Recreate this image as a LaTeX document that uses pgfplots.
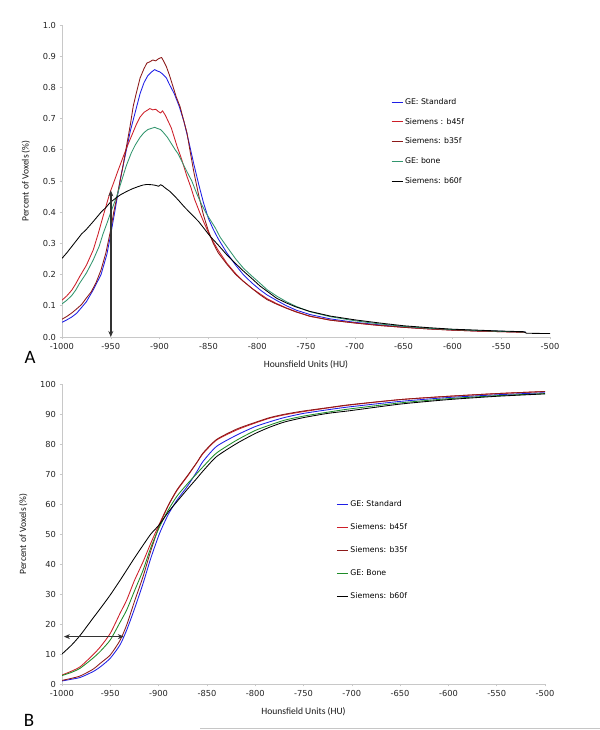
\documentclass[border=0pt]{standalone}
\usepackage{pgfplots}
\pgfplotsset{compat=1.18}
\usetikzlibrary{arrows.meta}
\usepackage{fontspec}
\setmainfont{DejaVu Sans}
\newfontfamily\carlito{Carlito}
\definecolor{cblue}{RGB}{30,30,230}
\definecolor{cred}{RGB}{205,30,40}
\definecolor{cdred}{RGB}{140,25,25}
\definecolor{cgreenA}{RGB}{50,150,110}
\definecolor{cgreenB}{RGB}{30,140,40}
\definecolor{caxis}{RGB}{200,200,200}
\pgfplotsset{
  common/.style={
    scale only axis,
    axis x line*=bottom, axis y line*=left,
    axis line style={caxis, line width=0.8bp},
    tick style={caxis, line width=0.6bp},
    major tick length=2.5bp, tick align=outside,
    xmin=-1000, xmax=-500,
    xtick={-1000,-950,...,-500},
    /pgf/number format/assume math mode=true,
    /pgf/number format/set thousands separator={},
    ticklabel style={font=\fontsize{8.3}{9}\selectfont, text=black!85},
    label style={font=\carlito\fontsize{9.6}{11}\selectfont, text=black!90},
    xlabel={Hounsfield Units (HU)},
    ylabel={Percent of Voxels (\%)},
    xlabel style={yshift=-4bp},
    ylabel style={yshift=6bp},
    every axis plot/.append style={line width=0.85bp, line join=round},
    legend cell align=left,
    legend image code/.code={\draw[#1, sharp plot, line width=0.9bp] (0bp,0bp) -- (11bp,0bp);},
    legend style={draw=none, fill=none, font=\fontsize{7.8}{9}\selectfont, anchor=north west, inner sep=0pt},
  }
}
\begin{document}
\begin{tikzpicture}
\useasboundingbox (0bp,0bp) rectangle (600bp,730bp);
\fill[white] (0bp,0bp) rectangle (600bp,730bp);
% ---------------- Panel A ----------------
\begin{axis}[common,
  at={(62bp,393bp)}, anchor=south west,
  width=488bp, height=312bp,
  ymin=0, ymax=1, ytick={0,0.1,...,1.0},
  yticklabel style={/pgf/number format/fixed, /pgf/number format/fixed zerofill, /pgf/number format/precision=1},
  legend style={at={(0.674,0.772)}, row sep=8.5bp},
]
\addplot[cblue] coordinates {(-1000,0.047) (-995,0.055) (-990,0.064) (-985,0.076) (-982,0.087) (-975,0.113) (-968,0.151) (-960,0.2) (-954,0.265) (-950,0.33) (-946,0.40) (-940,0.51) (-934,0.6) (-930,0.66) (-925,0.72) (-920,0.78) (-916,0.815) (-912,0.838) (-908,0.85) (-905,0.857) (-902,0.852) (-900,0.85) (-897,0.843) (-893,0.83) (-890,0.81) (-885,0.78) (-880,0.74) (-875,0.69) (-870,0.625) (-865,0.555) (-860,0.49) (-855,0.43) (-850,0.38) (-845,0.345) (-840,0.315) (-831,0.269) (-822,0.23) (-814,0.199) (-805,0.172) (-797,0.151) (-790,0.135) (-780,0.117) (-770,0.1) (-760,0.086) (-746,0.072) (-725,0.058) (-700,0.047) (-675,0.039) (-650,0.032) (-625,0.027) (-600,0.023) (-575,0.02) (-550,0.018) (-525,0.016)};
\addlegendentry{GE: Standard}
\addplot[cred] coordinates {(-1000,0.118) (-995,0.132) (-990,0.15) (-986,0.17) (-982,0.193) (-975,0.23) (-968,0.279) (-963,0.33) (-958,0.386) (-953,0.44) (-950,0.47) (-947,0.495) (-943,0.53) (-937,0.58) (-932,0.62) (-928,0.65) (-924,0.68) (-920,0.705) (-916,0.72) (-913,0.726) (-910,0.732) (-907,0.728) (-904,0.73) (-901,0.722) (-899,0.718) (-897,0.725) (-894,0.71) (-891,0.69) (-888,0.67) (-886,0.65) (-882,0.61) (-878,0.575) (-875,0.545) (-872,0.515) (-868,0.48) (-864,0.44) (-859,0.4) (-855,0.37) (-850,0.335) (-845,0.305) (-840,0.278) (-831,0.236) (-822,0.203) (-814,0.178) (-805,0.155) (-797,0.138) (-790,0.123) (-780,0.107) (-770,0.093) (-760,0.081) (-746,0.066) (-725,0.054) (-700,0.045) (-675,0.037) (-650,0.031) (-625,0.026) (-600,0.022) (-575,0.019) (-550,0.017) (-525,0.015)};
\addlegendentry{Siemens : b45f}
\addplot[cdred] coordinates {(-1000,0.057) (-995,0.066) (-990,0.077) (-985,0.09) (-980,0.104) (-975,0.125) (-970,0.145) (-965,0.175) (-960,0.215) (-955,0.27) (-950,0.345) (-947,0.40) (-943,0.46) (-938,0.54) (-934,0.61) (-930,0.68) (-927,0.74) (-924,0.78) (-920,0.83) (-916,0.86) (-913,0.878) (-910,0.882) (-907,0.888) (-904,0.885) (-901,0.892) (-898,0.896) (-896,0.885) (-893,0.866) (-890,0.84) (-886,0.8) (-883,0.77) (-879,0.738) (-875,0.69) (-872,0.655) (-869,0.6) (-865,0.53) (-860,0.455) (-855,0.39) (-850,0.34) (-845,0.3) (-840,0.27) (-831,0.233) (-822,0.2) (-814,0.178) (-805,0.155) (-797,0.135) (-790,0.12) (-780,0.105) (-770,0.092) (-760,0.08) (-746,0.067) (-725,0.054) (-700,0.045) (-675,0.037) (-650,0.031) (-625,0.026) (-600,0.022) (-575,0.019) (-550,0.017) (-525,0.015)};
\addlegendentry{Siemens: b35f}
\addplot[cgreenA] coordinates {(-1000,0.106) (-995,0.118) (-990,0.133) (-986,0.15) (-982,0.172) (-975,0.205) (-968,0.247) (-962,0.29) (-958,0.33) (-954,0.364) (-950,0.4) (-944,0.45) (-938,0.51) (-934,0.55) (-929,0.59) (-925,0.615) (-920,0.64) (-916,0.655) (-912,0.665) (-908,0.669) (-905,0.672) (-902,0.668) (-899,0.665) (-896,0.655) (-892,0.64) (-888,0.62) (-884,0.6) (-881,0.587) (-876,0.555) (-872,0.53) (-867,0.5) (-862,0.46) (-857,0.425) (-852,0.395) (-848,0.375) (-843,0.35) (-838,0.32) (-831,0.289) (-822,0.25) (-814,0.22) (-805,0.194) (-797,0.172) (-790,0.152) (-780,0.131) (-770,0.113) (-760,0.098) (-746,0.081) (-725,0.065) (-700,0.052) (-675,0.042) (-650,0.034) (-625,0.028) (-600,0.024) (-575,0.021) (-550,0.018) (-525,0.016)};
\addlegendentry{GE: bone}
\addplot[black] coordinates {(-1000,0.252) (-995,0.27) (-990,0.29) (-985,0.31) (-980,0.33) (-975,0.345) (-968,0.37) (-960,0.4) (-955,0.415) (-951,0.43) (-945,0.445) (-940,0.456) (-934,0.466) (-928,0.475) (-922,0.482) (-917,0.487) (-913,0.489) (-908,0.488) (-904,0.486) (-901,0.483) (-899,0.488) (-897,0.485) (-894,0.477) (-890,0.468) (-885,0.453) (-880,0.436) (-875,0.418) (-870,0.402) (-865,0.386) (-860,0.37) (-855,0.35) (-848,0.322) (-840,0.295) (-831,0.263) (-822,0.235) (-814,0.211) (-805,0.186) (-797,0.163) (-790,0.147) (-780,0.124) (-770,0.109) (-760,0.096) (-746,0.082) (-725,0.067) (-700,0.055) (-675,0.045) (-650,0.036) (-625,0.03) (-600,0.025) (-575,0.022) (-550,0.019) (-527,0.017) (-524,0.012) (-500,0.011)};
\addlegendentry{Siemens: b60f}
\draw[black!80, line width=1.4bp, {Stealth[length=6bp,width=5bp]}-{Stealth[length=6bp,width=5bp]}] (axis cs:-950,0.47) -- (axis cs:-950,0.0);
\end{axis}
\node[font=\carlito\fontsize{19}{20}\selectfont] at (30bp,373bp) {A};
% ---------------- Panel B ----------------
\begin{axis}[common,
  at={(62bp,46bp)}, anchor=south west,
  width=483bp, height=300bp,
  ymin=0, ymax=100, ytick={0,10,...,100},
  legend style={at={(0.568,0.617)}, row sep=11.5bp},
]
\addplot[cblue, smooth, tension=0.4] coordinates {(-1000,1.0) (-990,1.6) (-981,2.2) (-968,4.1) (-960,5.8) (-950,8.6) (-940,13) (-933,18) (-925,25) (-916,33.6) (-908,42) (-899,50.2) (-890,56.5) (-881,61.3) (-870,66) (-860,71) (-854,74.2) (-840,79.2) (-819,83) (-800,85.8) (-785,87.4) (-770,88.8) (-750,90.2) (-725,91.4) (-702,92.4) (-650,94.2) (-600,95.5) (-550,96.4) (-500,97.1)};
\addlegendentry{GE: Standard}
\addplot[cred, smooth, tension=0.4] coordinates {(-1000,3.0) (-990,4.3) (-981,5.8) (-968,9.7) (-960,12.5) (-950,16.9) (-940,23.5) (-933,28) (-925,34.5) (-916,40.8) (-908,47) (-899,53.5) (-890,59.5) (-881,64.5) (-870,69.3) (-860,74) (-854,76.8) (-840,81.3) (-819,84.7) (-800,87) (-785,88.6) (-770,89.7) (-750,90.8) (-725,92) (-702,93) (-650,94.8) (-600,95.9) (-550,96.8) (-500,97.5)};
\addlegendentry{Siemens: b45f}
\addplot[cdred, smooth, tension=0.4] coordinates {(-1000,1.2) (-990,1.9) (-981,2.7) (-968,4.9) (-960,7) (-950,9.7) (-940,14.5) (-933,19.7) (-925,27.5) (-916,35.9) (-908,44.5) (-899,53) (-890,59.5) (-881,64.7) (-870,69.5) (-860,74) (-854,77) (-840,81.5) (-819,85) (-800,87.2) (-785,88.8) (-770,89.9) (-750,91) (-725,92.1) (-702,93.1) (-650,94.8) (-600,95.9) (-550,96.8) (-500,97.5)};
\addlegendentry{Siemens: b35f}
\addplot[cgreenB, smooth, tension=0.4] coordinates {(-1000,2.8) (-990,3.9) (-981,5.3) (-968,8.6) (-960,11) (-950,14.7) (-940,20.5) (-933,24.7) (-925,31) (-916,38) (-908,45.5) (-899,52.4) (-890,58) (-881,62.6) (-870,66.8) (-860,70.3) (-854,72.4) (-840,77) (-819,81.3) (-800,84.5) (-785,86.3) (-770,87.9) (-750,89.3) (-725,90.6) (-702,91.7) (-650,93.7) (-600,95.1) (-550,96.1) (-500,96.8)};
\addlegendentry{GE: Bone}
\addplot[black, smooth, tension=0.4] coordinates {(-1000,10.0) (-990,13) (-981,16.3) (-968,21.9) (-960,25.3) (-950,29.7) (-940,34.5) (-933,38) (-925,42) (-916,46.3) (-908,50) (-899,53.2) (-890,57.3) (-881,60.8) (-870,65) (-860,68.7) (-854,71) (-840,75.8) (-819,80.2) (-800,83.5) (-785,85.6) (-770,87.3) (-750,88.8) (-725,90.2) (-702,91.1) (-650,93.3) (-600,94.8) (-550,95.9) (-500,96.7)};
\addlegendentry{Siemens: b60f}
\draw[black!80, line width=1.2bp, {Stealth[length=6bp,width=5bp]}-{Stealth[length=6bp,width=5bp]}] (axis cs:-998,15.8) -- (axis cs:-936,15.8);
\end{axis}
\node[font=\carlito\fontsize{19}{20}\selectfont] at (29bp,10bp) {B};
\draw[gray!45, line width=0.8bp] (200bp,2bp) -- (600bp,2bp);
\end{tikzpicture}
\end{document}
